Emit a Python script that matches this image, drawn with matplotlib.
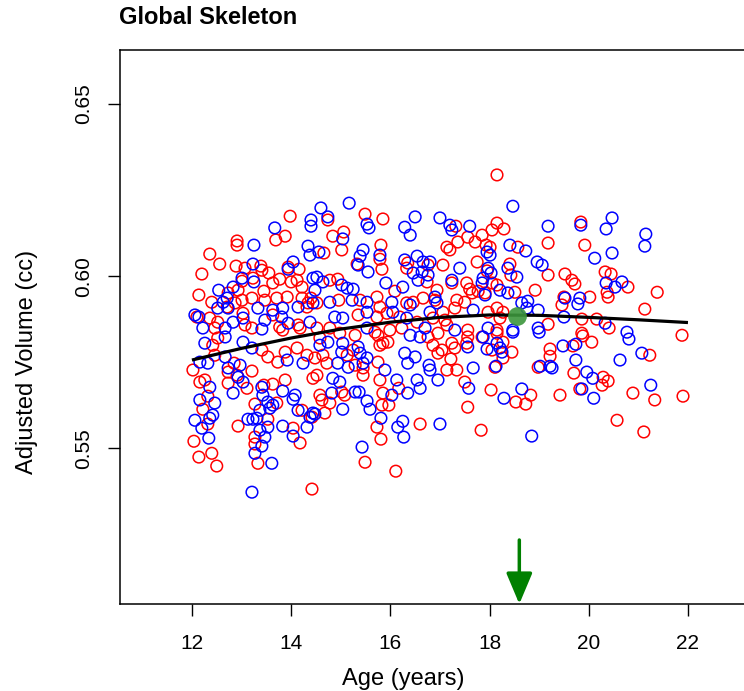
import numpy as np
import matplotlib
matplotlib.use("Agg")
import matplotlib.pyplot as plt

plt.rcParams['font.family'] = ['Liberation Sans', 'DejaVu Sans']

# ------------------------------
# data (age in years, adjusted volume in cc)
# ------------------------------
red_points = [
    (13.98, 0.6174), (13.88, 0.6116), (13.69, 0.6105), (12.91, 0.6102), (12.91, 0.6090),
    (12.36, 0.6064), (12.56, 0.6035), (12.20, 0.6006), (12.89, 0.6029), (13.07, 0.6023),
    (13.39, 0.6029), (13.41, 0.6017), (13.55, 0.6009), (13.77, 0.5991), (13.94, 0.6026),
    (14.16, 0.6020), (14.12, 0.5988), (14.00, 0.5983), (14.22, 0.5968), (13.23, 0.5994),
    (13.01, 0.5985), (13.63, 0.5980), (13.45, 0.5956), (12.93, 0.5959), (12.73, 0.5951),
    (12.14, 0.5945), (12.40, 0.5924), (13.01, 0.5930), (13.21, 0.5936), (13.47, 0.5930),
    (13.71, 0.5936), (13.92, 0.5939), (14.22, 0.5936), (12.87, 0.5922), (12.71, 0.5910),
    (14.34, 0.5922), (14.32, 0.5910), (13.03, 0.5892), (13.63, 0.5887), (12.36, 0.5878),
    (12.10, 0.5881), (12.52, 0.5866), (13.07, 0.5858), (13.77, 0.5852), (14.14, 0.5858),
    (12.46, 0.5849), (13.21, 0.5849), (13.83, 0.5843), (14.18, 0.5849),
    (15.49, 0.6180), (15.85, 0.6166), (14.74, 0.6163), (15.06, 0.6128), (14.84, 0.6116),
    (15.02, 0.6076), (14.66, 0.6067), (15.81, 0.6090), (15.79, 0.6049), (15.83, 0.6020),
    (15.33, 0.6035), (16.35, 0.6038), (16.33, 0.6023), (16.76, 0.6032), (14.78, 0.5988),
    (14.94, 0.5991), (16.74, 0.5983), (16.94, 0.5959), (14.96, 0.5930), (15.39, 0.5930),
    (15.73, 0.5939), (15.79, 0.5910), (16.09, 0.5956), (16.33, 0.5922), (16.46, 0.5924),
    (16.66, 0.5936), (16.90, 0.5930), (14.52, 0.5922), (14.40, 0.5936), (15.35, 0.5887),
    (15.73, 0.5881), (15.93, 0.5892), (16.19, 0.5881), (16.54, 0.5866), (16.86, 0.5878),
    (14.52, 0.5849), (14.78, 0.5849), (15.99, 0.5843), (16.23, 0.5849), (15.69, 0.5837),
    (18.15, 0.6294), (17.32, 0.6145), (17.56, 0.6113), (17.71, 0.6099), (17.85, 0.6119),
    (18.05, 0.6134), (18.15, 0.6154), (18.29, 0.6137), (17.14, 0.6084), (17.20, 0.6076),
    (17.36, 0.6099), (17.93, 0.6090), (18.01, 0.6084), (18.57, 0.6084), (19.18, 0.6096),
    (18.41, 0.6035), (17.75, 0.6041), (17.06, 0.6032), (17.95, 0.6015), (18.43, 0.6003),
    (19.18, 0.6003), (19.52, 0.6006), (17.24, 0.5980), (17.54, 0.5980), (17.60, 0.5962),
    (17.77, 0.5956), (18.05, 0.5980), (18.15, 0.5974), (18.51, 0.5953), (18.92, 0.5959),
    (17.34, 0.5930), (17.50, 0.5924), (17.91, 0.5951), (17.65, 0.5951), (17.30, 0.5907),
    (17.97, 0.5895), (18.15, 0.5907), (18.27, 0.5895), (18.21, 0.5878), (17.06, 0.5895),
    (17.10, 0.5872), (17.14, 0.5858), (17.56, 0.5843), (18.15, 0.5843), (19.18, 0.5860),
    (19.46, 0.5916),
    (19.84, 0.6157), (19.92, 0.6090), (19.66, 0.5988), (19.72, 0.5977), (20.33, 0.6012),
    (20.45, 0.6006), (20.37, 0.5953), (20.39, 0.5939), (20.79, 0.5968), (20.02, 0.5939),
    (19.50, 0.5939), (21.38, 0.5953), (21.13, 0.5904), (19.86, 0.5875), (20.16, 0.5875),
    (20.41, 0.5849), (19.86, 0.5834), (21.88, 0.5828),
    (12.52, 0.5820), (12.42, 0.5799), (12.46, 0.5770), (12.02, 0.5727), (12.16, 0.5692),
    (12.26, 0.5698), (12.85, 0.5747), (12.73, 0.5721), (12.91, 0.5712), (12.73, 0.5689),
    (13.11, 0.5674), (13.21, 0.5724), (13.45, 0.5683), (13.63, 0.5686), (13.88, 0.5698),
    (12.32, 0.5651), (12.22, 0.5613), (13.27, 0.5628), (13.71, 0.5631), (14.22, 0.5610),
    (12.32, 0.5570), (12.93, 0.5564), (13.53, 0.5584), (14.04, 0.5558), (13.27, 0.5532),
    (14.18, 0.5515), (13.27, 0.5512), (12.04, 0.5520), (12.40, 0.5485), (12.14, 0.5474),
    (12.50, 0.5448), (13.33, 0.5456), (14.42, 0.5381), (13.41, 0.5785), (13.53, 0.5765),
    (13.88, 0.5779), (14.12, 0.5791), (14.32, 0.5770), (13.73, 0.5750),
    (14.58, 0.5820), (14.98, 0.5834), (15.29, 0.5828), (15.75, 0.5828), (15.85, 0.5805),
    (15.95, 0.5808), (15.79, 0.5799), (16.76, 0.5823), (16.86, 0.5799), (16.96, 0.5776),
    (15.13, 0.5770), (15.25, 0.5785), (14.48, 0.5762), (14.64, 0.5770), (14.72, 0.5747),
    (15.29, 0.5741), (15.45, 0.5733), (15.45, 0.5712), (15.75, 0.5750), (14.52, 0.5712),
    (14.44, 0.5703), (15.79, 0.5698), (15.85, 0.5660), (16.17, 0.5674), (14.58, 0.5654),
    (14.62, 0.5640), (15.02, 0.5663), (15.08, 0.5654), (14.78, 0.5631), (14.68, 0.5602),
    (15.83, 0.5625), (15.97, 0.5625), (14.42, 0.5590), (15.73, 0.5561), (15.81, 0.5526),
    (16.60, 0.5570), (15.49, 0.5459), (16.11, 0.5433),
    (16.96, 0.5834), (17.24, 0.5805), (17.30, 0.5791), (17.04, 0.5785), (17.56, 0.5823),
    (17.54, 0.5805), (17.85, 0.5823), (18.15, 0.5834), (18.27, 0.5808), (18.45, 0.5779),
    (18.05, 0.5785), (18.27, 0.5762), (17.22, 0.5759), (17.14, 0.5727), (17.34, 0.5727),
    (18.11, 0.5735), (18.98, 0.5735), (19.22, 0.5788), (19.22, 0.5767), (17.50, 0.5692),
    (18.03, 0.5669), (17.56, 0.5619), (18.53, 0.5634), (18.73, 0.5628), (18.83, 0.5654),
    (19.42, 0.5654), (17.83, 0.5552),
    (19.88, 0.5826), (19.68, 0.5797), (20.06, 0.5808), (21.23, 0.5770), (19.70, 0.5718),
    (20.29, 0.5706), (20.39, 0.5695), (20.27, 0.5683), (19.82, 0.5672), (20.89, 0.5660),
    (21.33, 0.5640), (21.90, 0.5651), (20.57, 0.5581), (21.11, 0.5547),
]

blue_points = [
    (14.40, 0.6163), (14.40, 0.6145), (13.67, 0.6140), (13.25, 0.6090), (14.34, 0.6087),
    (14.38, 0.6061), (14.04, 0.6041), (13.94, 0.6020), (13.23, 0.6035), (13.01, 0.5994),
    (13.25, 0.5983), (12.83, 0.5968), (12.54, 0.5959), (14.44, 0.5994), (12.71, 0.5936),
    (12.63, 0.5924), (12.52, 0.5907), (12.73, 0.5907), (13.33, 0.5907), (14.14, 0.5910),
    (14.44, 0.5922), (12.06, 0.5887), (12.14, 0.5881), (13.63, 0.5901), (13.83, 0.5907),
    (13.81, 0.5881), (13.47, 0.5872), (12.83, 0.5866), (13.03, 0.5878), (12.22, 0.5849),
    (12.67, 0.5849), (13.41, 0.5846), (13.94, 0.5863), (14.38, 0.5866),
    (14.60, 0.6198), (15.17, 0.6212), (14.74, 0.6172), (15.53, 0.6151), (15.57, 0.6140),
    (16.29, 0.6142), (16.40, 0.6119), (16.50, 0.6172), (17.00, 0.6169), (15.04, 0.6108),
    (14.56, 0.6070), (15.45, 0.6076), (15.39, 0.6058), (15.35, 0.6032), (15.55, 0.6012),
    (15.79, 0.6061), (16.29, 0.6047), (16.54, 0.6058), (16.66, 0.6041), (16.80, 0.6041),
    (16.46, 0.6009), (16.64, 0.6012), (16.76, 0.6003), (16.56, 0.5988), (14.52, 0.5997),
    (14.64, 0.5983), (15.02, 0.5974), (15.13, 0.5965), (15.25, 0.5962), (14.48, 0.5959),
    (15.91, 0.5980), (16.25, 0.5968), (14.78, 0.5924), (15.23, 0.5930), (15.53, 0.5924),
    (16.03, 0.5924), (15.53, 0.5895), (15.04, 0.5878), (14.88, 0.5881), (16.05, 0.5895),
    (16.40, 0.5916), (16.80, 0.5895), (16.33, 0.5878), (16.70, 0.5849), (15.53, 0.5849),
    (18.47, 0.6203), (17.20, 0.6148), (17.24, 0.6134), (17.60, 0.6145), (19.18, 0.6145),
    (18.41, 0.6090), (18.73, 0.6073), (18.01, 0.6061), (17.95, 0.6070), (18.96, 0.6041),
    (19.06, 0.6032), (17.40, 0.6023), (17.97, 0.6023), (18.03, 0.6009), (18.55, 0.5997),
    (18.37, 0.6023), (17.24, 0.5988), (17.87, 0.5994), (17.85, 0.5980), (17.91, 0.5945),
    (18.21, 0.5959), (18.37, 0.5951), (16.90, 0.5939), (18.65, 0.5922), (18.77, 0.5927),
    (18.75, 0.5907), (18.98, 0.5901), (17.67, 0.5901), (16.94, 0.5922), (19.52, 0.5936),
    (17.97, 0.5849), (18.47, 0.5843), (18.98, 0.5849), (17.30, 0.5843),
    (19.84, 0.6148), (20.47, 0.6169), (20.35, 0.6137), (21.15, 0.6122), (21.13, 0.6087),
    (20.47, 0.6067), (20.12, 0.6052), (20.35, 0.5980), (20.53, 0.5968), (20.67, 0.5983),
    (19.82, 0.5936), (19.78, 0.5919), (19.50, 0.5881), (20.33, 0.5863), (20.77, 0.5837),
    (12.26, 0.5805), (12.67, 0.5823), (13.03, 0.5808), (13.21, 0.5791), (12.16, 0.5750),
    (12.32, 0.5747), (12.67, 0.5765), (12.97, 0.5741), (13.92, 0.5756), (14.24, 0.5747),
    (12.73, 0.5733), (12.93, 0.5706), (13.03, 0.5692), (12.36, 0.5677), (12.83, 0.5660),
    (13.41, 0.5677), (13.43, 0.5654), (14.08, 0.5654), (14.04, 0.5642), (13.83, 0.5666),
    (12.16, 0.5640), (12.46, 0.5631), (13.53, 0.5634), (13.63, 0.5625), (13.37, 0.5610),
    (13.57, 0.5616), (14.14, 0.5610), (12.42, 0.5596), (12.36, 0.5587), (13.13, 0.5584),
    (13.23, 0.5584), (13.31, 0.5587), (12.06, 0.5581), (12.20, 0.5558), (13.53, 0.5561),
    (13.37, 0.5552), (13.83, 0.5564), (14.32, 0.5561), (14.04, 0.5535), (13.47, 0.5532),
    (12.34, 0.5529), (13.41, 0.5506), (13.27, 0.5485), (13.61, 0.5456), (13.21, 0.5372),
    (14.38, 0.5590), (14.44, 0.5602),
    (14.58, 0.5799), (14.74, 0.5808), (15.04, 0.5805), (15.35, 0.5794), (15.02, 0.5779),
    (15.39, 0.5776), (15.53, 0.5762), (14.94, 0.5747), (15.15, 0.5735), (15.45, 0.5747),
    (15.89, 0.5727), (16.40, 0.5828), (16.60, 0.5823), (16.29, 0.5776), (16.50, 0.5765),
    (16.35, 0.5747), (16.78, 0.5741), (16.80, 0.5727), (16.96, 0.5698), (14.84, 0.5703),
    (14.98, 0.5692), (16.13, 0.5698), (16.54, 0.5698), (16.60, 0.5674), (16.35, 0.5660),
    (16.03, 0.5654), (14.82, 0.5660), (15.29, 0.5663), (15.37, 0.5663), (15.53, 0.5637),
    (15.59, 0.5613), (15.04, 0.5613), (14.48, 0.5599), (15.81, 0.5587), (16.25, 0.5578),
    (16.15, 0.5561), (16.27, 0.5532), (15.43, 0.5503), (17.00, 0.5570),
    (18.47, 0.5837), (19.00, 0.5837), (17.87, 0.5823), (17.56, 0.5794), (17.95, 0.5788),
    (18.21, 0.5791), (18.15, 0.5805), (18.25, 0.5779), (17.67, 0.5733), (18.13, 0.5738),
    (19.02, 0.5738), (19.22, 0.5738), (19.26, 0.5733), (17.58, 0.5674), (18.29, 0.5645),
    (18.65, 0.5672), (19.48, 0.5797), (18.85, 0.5535),
    (19.74, 0.5802), (20.81, 0.5817), (21.07, 0.5776), (19.74, 0.5756), (20.63, 0.5756),
    (19.96, 0.5721), (20.08, 0.5703), (19.86, 0.5672), (20.10, 0.5645), (21.25, 0.5683),
]

# fitted curve
curve_age = [12, 13, 14, 15, 16, 17, 18, 19, 20, 21, 22]
curve_vol = [0.5756, 0.5790, 0.5820, 0.5846, 0.5866, 0.5880, 0.5887, 0.5886, 0.5880, 0.5873, 0.5865]

# peak marker / arrow
peak_age = 18.55
peak_vol = 0.5884
arrow_age = 18.6

xticks = [12, 14, 16, 18, 20, 22]
yticks = [0.55, 0.60, 0.65]

red = np.array(red_points)
blue = np.array(blue_points)

# ------------------------------
# plot
# ------------------------------
fig = plt.figure(figsize=(7.44, 6.91), dpi=100)
ax = fig.add_axes([0.1613, 0.1259, 0.8634, 0.8017])

ax.scatter(red[:, 0], red[:, 1], s=70, facecolors='none', edgecolors='#FF0000', linewidths=1.1)
ax.scatter(blue[:, 0], blue[:, 1], s=70, facecolors='none', edgecolors='#0000FF', linewidths=1.1)
ax.plot(curve_age, curve_vol, color='black', lw=2.3, solid_capstyle='butt')
ax.plot([peak_age], [peak_vol], 'o', color='#3C963C', alpha=0.9, ms=13.5, mec='none')

ax.set_xlim(10.55, 23.5)
ax.set_ylim(0.5047, 0.6657)

ax.annotate('', xy=(arrow_age, 0.5047), xytext=(arrow_age, 0.5233),
            arrowprops=dict(arrowstyle='-|>,head_width=0.8,head_length=1.9',
                            mutation_scale=10, color='#008000', lw=2.5,
                            shrinkA=0, shrinkB=0),
            annotation_clip=False)

ax.set_xticks(xticks)
ax.set_xticklabels([str(t) for t in xticks])
ax.set_yticks(yticks)
ax.set_yticklabels(['%.2f' % t for t in yticks], rotation=90, va='center')
ax.tick_params(direction='out', length=8.5, width=1, labelsize=15)
ax.tick_params(axis='x', pad=13)
ax.tick_params(axis='y', pad=10.5)

for sp in ax.spines.values():
    sp.set_linewidth(1.1)

# axis titles placed by hand like R's mtext lines
fig.text(403.5 / 744, 6 / 691, 'Age (years)', fontsize=17, ha='center', va='baseline')
fig.text(33 / 744, 1 - 361.5 / 691, 'Adjusted Volume (cc)', fontsize=17, rotation=90,
         rotation_mode='anchor', ha='center', va='baseline')
fig.text(119 / 744, 1 - 24 / 691, 'Global Skeleton', fontsize=17, fontweight='bold',
         ha='left', va='baseline')

fig.savefig('out.png', dpi=100)
